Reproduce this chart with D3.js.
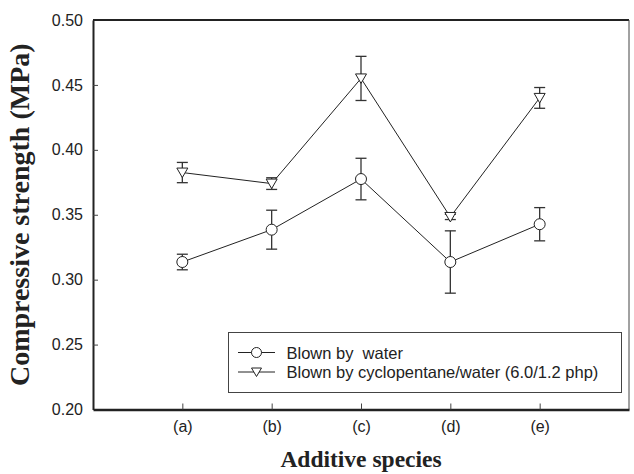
<!DOCTYPE html>
<html>
<head>
<meta charset="utf-8">
<script src="https://cdn.jsdelivr.net/npm/d3@7"></script>
<style>
  body { margin: 0; background: #fff; }
  svg { display: block; }
</style>
</head>
<body>
<script>
const categories = ["(a)", "(b)", "(c)", "(d)", "(e)"];
const waterValues = [0.3136, 0.3385, 0.3775, 0.3136, 0.3427];
const waterErrors = [0.0060, 0.0150, 0.0160, 0.0240, 0.0128];
const cycloValues = [0.3825, 0.3740, 0.4550, 0.3483, 0.4400];
const cycloErrors = [0.0078, 0.0045, 0.0170, 0.0020, 0.0080];
const yTicks = [0.20, 0.25, 0.30, 0.35, 0.40, 0.45, 0.50];
const seriesNames = ["Blown by  water", "Blown by cyclopentane/water (6.0/1.2 php)"];

const W = 634, H = 474;
const m = { left: 93, top: 20, right: 634 - 629, bottom: 474 - 409.5 };
const iw = W - m.left - m.right, ih = H - m.top - m.bottom;

const svg = d3.select("body").append("svg").attr("width", W).attr("height", H);
const g = svg.append("g").attr("transform", `translate(${m.left},${m.top})`);

const x = d3.scaleLinear().domain([0, categories.length + 1]).range([0, iw]);
const y = d3.scaleLinear().domain([0.20, 0.50]).range([ih, 0]);
const ink = "#222";
const sans = "Liberation Sans, Arial, sans-serif";
const serif = "Liberation Serif, Times New Roman, serif";

// frame: top and right
g.append("line").attr("x1", 0).attr("x2", iw).attr("y1", 0).attr("y2", 0)
  .attr("stroke", ink).attr("stroke-width", 2);
g.append("line").attr("x1", iw).attr("x2", iw).attr("y1", 0).attr("y2", ih)
  .attr("stroke", "#444").attr("stroke-width", 1);

// y axis
const yAxis = d3.axisLeft(y).tickValues(yTicks).tickFormat(d3.format(".2f")).tickSizeInner(-5).tickSizeOuter(0).tickPadding(10);
const ya = g.append("g").call(yAxis);
ya.select(".domain").attr("stroke", ink).attr("stroke-width", 2);
ya.selectAll(".tick line").attr("stroke", "#444");
ya.selectAll(".tick").filter(d => d === 0.20 || d === 0.50).select("line").remove();
ya.selectAll("text").attr("font-family", sans).attr("font-size", 16).attr("fill", ink);

// x axis
const xAxis = d3.axisBottom(x).tickValues(d3.range(1, categories.length + 1))
  .tickFormat(d => categories[d - 1]).tickSizeInner(-6).tickSizeOuter(0).tickPadding(11);
const xa = g.append("g").attr("transform", `translate(0,${ih})`).call(xAxis);
xa.select(".domain").attr("stroke", ink).attr("stroke-width", 2.5);
xa.selectAll(".tick line").attr("stroke", "#444");
xa.selectAll("text").attr("font-family", sans).attr("font-size", 16).attr("fill", ink);

// axis titles
svg.append("text").attr("x", x(3) + m.left).attr("y", 467)
  .attr("text-anchor", "middle").attr("font-family", serif)
  .attr("font-weight", "bold").attr("font-size", 23.5).attr("fill", ink).text("Additive species");
svg.append("text").attr("transform", `translate(29,${m.top + ih / 2}) rotate(-90)`)
  .attr("text-anchor", "middle").attr("font-family", serif)
  .attr("font-weight", "bold").attr("font-size", 28).attr("fill", ink).text("Compressive strength (MPa)");

const series = [
  { name: seriesNames[0], values: waterValues, errors: waterErrors, marker: "circle" },
  { name: seriesNames[1], values: cycloValues, errors: cycloErrors, marker: "tri" }
];

const line = d3.line().x((d, i) => x(i + 1)).y(d => y(d));
const triPath = "M-5.5,-4.5 L5.5,-4.5 L0,5 Z";

function drawMarker(sel, type) {
  if (type === "circle") {
    sel.append("circle").attr("r", 5.5).attr("fill", "#fff").attr("stroke", ink).attr("stroke-width", 1);
  } else {
    sel.append("path").attr("d", triPath).attr("fill", "#fff").attr("stroke", ink).attr("stroke-width", 1);
  }
}

series.forEach(s => {
  const eb = g.append("g").attr("stroke", "#333").attr("stroke-width", 1.3);
  s.values.forEach((v, i) => {
    const cx = x(i + 1), top = y(v + s.errors[i]), bot = y(v - s.errors[i]);
    eb.append("line").attr("x1", cx).attr("x2", cx).attr("y1", top).attr("y2", bot);
    eb.append("line").attr("x1", cx - 5.5).attr("x2", cx + 5.5).attr("y1", top).attr("y2", top);
    eb.append("line").attr("x1", cx - 5.5).attr("x2", cx + 5.5).attr("y1", bot).attr("y2", bot);
  });
  g.append("path").datum(s.values).attr("d", line).attr("fill", "none").attr("stroke", ink).attr("stroke-width", 1);
  s.values.forEach((v, i) => {
    const mk = g.append("g").attr("transform", `translate(${x(i + 1)},${y(v)})`);
    drawMarker(mk, s.marker);
  });
});

// legend
const lg = svg.append("g");
lg.append("rect").attr("x", 228.5).attr("y", 332.5).attr("width", 393).attr("height", 60)
  .attr("fill", "#fff").attr("stroke", "#444").attr("stroke-width", 1);
series.forEach((s, i) => {
  const ly = 352.5 + i * 19.5;
  lg.append("line").attr("x1", 238).attr("x2", 275).attr("y1", ly).attr("y2", ly).attr("stroke", ink).attr("stroke-width", 1);
  const mk = lg.append("g").attr("transform", `translate(256.5,${ly})`);
  if (s.marker === "circle") {
    mk.append("circle").attr("r", 5).attr("fill", "#fff").attr("stroke", ink);
  } else {
    mk.append("path").attr("d", "M-5,-4 L5,-4 L0,4.5 Z").attr("fill", "#fff").attr("stroke", ink);
  }
  lg.append("text").attr("x", 286.5).attr("y", ly + 6).attr("font-family", sans)
    .attr("font-size", 16.5).attr("fill", ink).style("white-space", "pre").text(s.name);
});
</script>
</body>
</html>
